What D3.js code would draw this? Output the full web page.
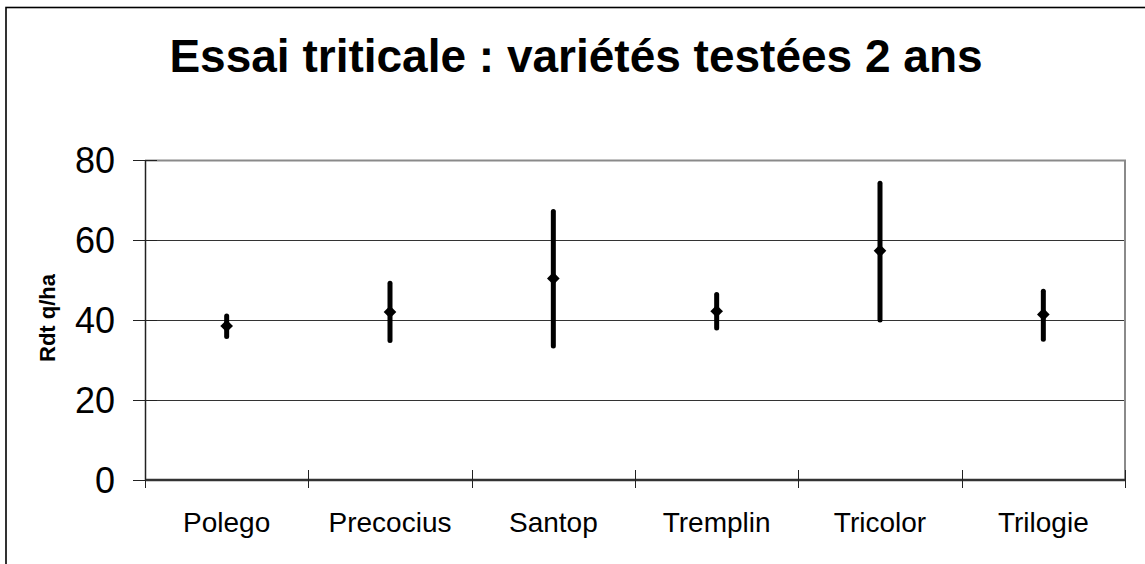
<!DOCTYPE html>
<html>
<head>
<meta charset="utf-8">
<script src="https://cdn.jsdelivr.net/npm/d3@7"></script>
<style>
  body { margin: 0; background: #fff; }
  svg { display: block; font-family: "Liberation Sans", Arial, sans-serif; }
</style>
</head>
<body>
<div id="chart"></div>
<script>

// yields per variety (q/ha)
var varieties = ["Polego", "Precocius", "Santop", "Tremplin", "Tricolor", "Trilogie"];
var means = [38.5, 42.0, 50.4, 42.2, 57.3, 41.4];
var lows  = [35.9, 34.9, 33.5, 38.0, 40.0, 35.2];
var highs = [41.0, 49.2, 67.1, 46.4, 74.2, 47.2];
var yTicks = [0, 20, 40, 60, 80];

var W = 1145, H = 564;
var margin = { left: 145, right: 20, top: 160, bottom: 84 };
var width = W - margin.left - margin.right,
    height = H - margin.top - margin.bottom;

var data = varieties.map(function (v, i) {
  return { name: v, mean: means[i], low: lows[i], high: highs[i] };
});

var svg = d3.select("#chart").append("svg")
  .attr("width", W)
  .attr("height", H);

// outer chart frame
svg.append("rect")
  .attr("x", 6).attr("y", 7.5)
  .attr("width", W + 20).attr("height", H + 20)
  .attr("fill", "none")
  .attr("stroke", "#000")
  .attr("stroke-width", 1.6);

svg.append("text")
  .attr("x", 576)
  .attr("y", 72)
  .attr("text-anchor", "middle")
  .style("font-size", "46px")
  .style("font-weight", "bold")
  .text("Essai triticale : variétés testées 2 ans");

var g = svg.append("g")
  .attr("transform", "translate(" + margin.left + "," + margin.top + ")");

var x = d3.scaleBand()
  .domain(varieties)
  .range([0, width]);

var y = d3.scaleLinear()
  .domain([0, 80])
  .range([height, 0]);

// gridlines
g.selectAll(".grid")
  .data(yTicks.filter(function (d) { return d > 0 && d < 80; }))
  .enter().append("line")
  .attr("class", "grid")
  .attr("x1", 0).attr("x2", width)
  .attr("y1", function (d) { return Math.round(y(d)) + 0.5; })
  .attr("y2", function (d) { return Math.round(y(d)) + 0.5; })
  .attr("stroke", "#333")
  .attr("stroke-width", 1);

// plot area border top / right (grey)
g.append("path")
  .attr("d", "M0,0.5H" + width + "V" + height)
  .attr("fill", "none")
  .attr("stroke", "#8a8a8a")
  .attr("stroke-width", 2);

// y axis
var yAxis = d3.axisLeft(y)
  .tickValues(yTicks)
  .tickSizeInner(12)
  .tickSizeOuter(0)
  .tickPadding(18);

var ya = g.append("g").call(yAxis);
ya.select(".domain").attr("stroke", "#222").attr("stroke-width", 1.5);
ya.selectAll(".tick line").attr("x2", 12).attr("x1", -12).attr("stroke", "#222");
ya.selectAll(".tick text")
  .style("font-size", "36px")
  .style("font-family", "'Liberation Sans', Arial, sans-serif")
  .attr("fill", "#000")
  .attr("dy", "0.36em");

// x axis with ticks between categories
var xa = g.append("g").attr("transform", "translate(0," + height + ")");
xa.append("line")
  .attr("x1", 0).attr("x2", width)
  .attr("y1", 0).attr("y2", 0)
  .attr("stroke", "#333")
  .attr("stroke-width", 2.5);

var edges = varieties.map(function (v) { return x(v); }).concat([width]);
xa.selectAll(".xtick")
  .data(edges)
  .enter().append("line")
  .attr("class", "xtick")
  .attr("x1", function (d) { return Math.round(d) + 0.5; })
  .attr("x2", function (d) { return Math.round(d) + 0.5; })
  .attr("y1", -10).attr("y2", 8)
  .attr("stroke", "#222");

xa.selectAll(".xlabel")
  .data(varieties)
  .enter().append("text")
  .attr("class", "xlabel")
  .attr("x", function (d) { return x(d) + x.bandwidth() / 2; })
  .attr("y", 52)
  .attr("text-anchor", "middle")
  .style("font-size", "28px")
  .text(function (d) { return d; });

// y axis title
svg.append("text")
  .attr("transform", "translate(55,318) rotate(-90)")
  .attr("text-anchor", "middle")
  .style("font-size", "22px")
  .style("font-weight", "bold")
  .text("Rdt q/ha");

// high-low bars
g.selectAll(".bar")
  .data(data)
  .enter().append("line")
  .attr("class", "bar")
  .attr("x1", function (d) { return x(d.name) + x.bandwidth() / 2; })
  .attr("x2", function (d) { return x(d.name) + x.bandwidth() / 2; })
  .attr("y1", function (d) { return y(d.high); })
  .attr("y2", function (d) { return y(d.low); })
  .attr("stroke", "#000")
  .attr("stroke-width", 5)
  .attr("stroke-linecap", "round");

// mean markers (diamonds)
var diamond = d3.symbol().type(d3.symbolSquare).size(80);
g.selectAll(".mean")
  .data(data)
  .enter().append("path")
  .attr("class", "mean")
  .attr("d", diamond)
  .attr("transform", function (d) {
    return "translate(" + (x(d.name) + x.bandwidth() / 2) + "," + y(d.mean) + ") rotate(45)";
  })
  .attr("fill", "#000");

</script>
</body>
</html>
